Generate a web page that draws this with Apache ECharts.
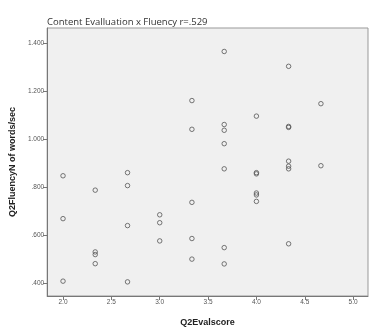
<!DOCTYPE html>
<html>
<head>
<meta charset="utf-8">
<script src="https://cdn.jsdelivr.net/npm/echarts@6/dist/echarts.min.js"></script>
<style>
  html, body { margin: 0; padding: 0; background: #fff; }
  #main { width: 369px; height: 332px; }
</style>
</head>
<body>
<div id="main"></div>
<script>
// Q2Evalscore (x) and Q2FluencyN of words/sec (y), one entry per case
var evalScore = [
  2.0, 2.0, 2.0,
  2.333, 2.333, 2.333, 2.333,
  2.667, 2.667, 2.667, 2.667,
  3.0, 3.0, 3.0,
  3.333, 3.333, 3.333, 3.333, 3.333,
  3.667, 3.667, 3.667, 3.667, 3.667, 3.667, 3.667,
  4.0, 4.0, 4.0, 4.0, 4.0, 4.0,
  4.333, 4.333, 4.333, 4.333, 4.333, 4.333, 4.333,
  4.667, 4.667
];
var fluency = [
  0.848, 0.669, 0.408,
  0.788, 0.530, 0.519, 0.481,
  0.861, 0.807, 0.640, 0.405,
  0.685, 0.652, 0.576,
  1.162, 1.042, 0.737, 0.586, 0.500,
  1.367, 1.062, 1.038, 0.982, 0.877, 0.548, 0.480,
  1.097, 0.861, 0.856, 0.776, 0.768, 0.741,
  1.305, 1.054, 1.050, 0.909, 0.888, 0.877, 0.564,
  1.149, 0.890
];
var xTicks = [2.0, 2.5, 3.0, 3.5, 4.0, 4.5, 5.0];
var yTicks = [0.4, 0.6, 0.8, 1.0, 1.2, 1.4];

var points = [];
for (var i = 0; i < evalScore.length; i++) {
  points.push([evalScore[i], fluency[i]]);
}

// SPSS style labels: ".800", "1.200"
function fmtY(v) {
  var s = v.toFixed(3);
  if (s.charAt(0) == '0') s = s.substring(1);
  return s;
}

var myChart = echarts.init(document.getElementById('main'), null, { renderer: 'canvas' });
var option = {
  backgroundColor: '#ffffff',
  animation: false,
  title: {
    text: 'Content Evalluation x Fluency r=.529',
    left: 42,
    top: 12,
    textStyle: { fontFamily: 'Open Sans', fontSize: 9.5, fontWeight: 'normal', color: '#333' }
  },
  grid: {
    left: 44, right: 1, top: 28, bottom: 29,
    show: true,
    backgroundColor: '#f0f0f0',
    borderColor: '#999',
    borderWidth: 1
  },
  xAxis: {
    type: 'value',
    min: 1.836,
    max: 5.154,
    name: 'Q2Evalscore',
    nameLocation: 'middle',
    nameGap: 22,
    nameTextStyle: { fontFamily: 'Liberation Sans', fontWeight: 'bold', fontSize: 9, color: '#222' },
    splitLine: { show: false },
    axisLine: { lineStyle: { color: '#777' } },
    axisTick: { customValues: xTicks, length: 4, lineStyle: { color: '#777' } },
    axisLabel: {
      customValues: xTicks,
      formatter: function (v) { return v.toFixed(1); },
      fontFamily: 'Liberation Sans', fontSize: 6.5, color: '#555', margin: 3
    }
  },
  yAxis: {
    type: 'value',
    min: 0.346,
    max: 1.465,
    name: 'Q2FluencyN of words/sec',
    nameLocation: 'middle',
    nameGap: 29,
    nameTextStyle: { fontFamily: 'Liberation Sans', fontWeight: 'bold', fontSize: 9, color: '#222' },
    splitLine: { show: false },
    axisLine: { show: true, lineStyle: { color: '#777' } },
    axisTick: { show: true, customValues: yTicks, length: 4, lineStyle: { color: '#777' } },
    axisLabel: {
      customValues: yTicks,
      formatter: fmtY,
      fontFamily: 'Liberation Sans', fontSize: 6.5, color: '#555', margin: 3
    }
  },
  series: [
    {
      type: 'scatter',
      data: points,
      symbol: 'circle',
      symbolSize: 4.5,
      itemStyle: { color: 'rgba(0,0,0,0)', borderColor: '#555', borderWidth: 1 }
    }
  ]
};
myChart.setOption(option);
</script>
</body>
</html>
